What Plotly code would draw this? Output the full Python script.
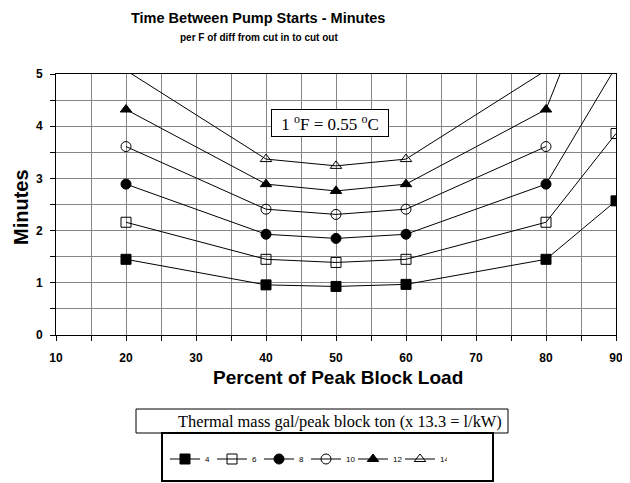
import plotly.graph_objects as go

# ---- data ----
load_pct = [20, 40, 50, 60, 80, 90]
s4 = [1.45, 0.96, 0.93, 0.97, 1.45, 2.57]
s6 = [2.16, 1.45, 1.39, 1.45, 2.16, 3.86]
s8 = [2.89, 1.93, 1.85, 1.93, 2.89, 5.14]
s10 = [3.61, 2.41, 2.31, 2.41, 3.61, None]
s12 = [4.32, 2.89, 2.76, 2.89, 4.32, 7.70]
s14 = [5.07, 3.37, 3.24, 3.37, 5.07, 9.00]
series_names = ["4", "6", "8", "10", "12", "14"]
x_ticks = [10, 20, 30, 40, 50, 60, 70, 80, 90]
y_ticks = [0, 1, 2, 3, 4, 5]

series = [s4, s6, s8, s10, s12, s14]
symbols = ["square", "square-open", "circle", "circle-open", "triangle-up", "triangle-up-open"]

W, H = 630, 483
OFF = 8  # page body margin
# plot area in screen pixels: x 56..616, y 74..335
SX0, SX1, SY0, SY1 = 56, 616, 74, 335
L, T = SX0 - OFF, SY0 - OFF
R, B = W - (SX1 - OFF), H - (SY1 - OFF)
PW, PH = SX1 - SX0, SY1 - SY0


def px(xs):
    return (xs - SX0) / PW


def py(ys):
    return (SY1 - ys) / PH


SANS = "Liberation Sans, Arial, sans-serif"
SERIF = "Liberation Serif, Times New Roman, serif"

fig = go.Figure()
for name, vals, sym in zip(series_names, series, symbols):
    fig.add_trace(go.Scatter(
        x=load_pct, y=vals, name=name, mode="lines+markers",
        line=dict(color="black", width=1),
        marker=dict(symbol=sym, size=10, color="black", line=dict(color="black", width=1)),
        connectgaps=False,
    ))

grid = "#858585"
fig.update_xaxes(
    range=[10, 90], tickvals=x_ticks, ticktext=[str(v) for v in x_ticks],
    showgrid=True, gridcolor=grid, gridwidth=1,
    minor=dict(dtick=5, tick0=10, showgrid=True, gridcolor=grid, gridwidth=1,
               ticks="outside", ticklen=5, tickcolor="black"),
    ticks="outside", ticklen=5, tickcolor="black",
    showline=True, linecolor="black", linewidth=1, mirror=True, zeroline=False,
    tickfont=dict(family=SANS, size=12, color="black", weight="bold"),
    ticklabelstandoff=7,
)
fig.update_yaxes(
    range=[0, 5], tickvals=y_ticks, ticktext=[str(v) for v in y_ticks],
    showgrid=True, gridcolor=grid, gridwidth=1,
    minor=dict(dtick=0.5, tick0=0, showgrid=True, gridcolor=grid, gridwidth=1,
               ticks="outside", ticklen=5, tickcolor="black"),
    ticks="outside", ticklen=5, tickcolor="black",
    showline=True, linecolor="black", linewidth=1, mirror=True, zeroline=False,
    tickfont=dict(family=SANS, size=12, color="black", weight="bold"),
    ticklabelstandoff=5,
)

annotations = [
    dict(text="<b>Time Between Pump Starts - Minutes</b>", xref="paper", yref="paper",
         x=px(258), y=py(18), showarrow=False, xanchor="center", yanchor="middle",
         font=dict(family=SANS, size=14.5, color="black")),
    dict(text="<b>per F of diff from cut in to cut out</b>", xref="paper", yref="paper",
         x=px(259), y=py(38), showarrow=False, xanchor="center", yanchor="middle",
         font=dict(family=SANS, size=10, color="black")),
    dict(text="<b>Minutes</b>", xref="paper", yref="paper", textangle=-90,
         x=px(21), y=py(207), showarrow=False, xanchor="center", yanchor="middle",
         font=dict(family=SANS, size=20, color="black")),
    dict(text="<b>Percent of Peak Block Load</b>", xref="paper", yref="paper",
         x=px(338), y=py(377), showarrow=False, xanchor="center", yanchor="middle",
         font=dict(family=SANS, size=19, color="black")),
    dict(text="1 <sup>o</sup>F = 0.55 <sup>o</sup>C", xref="paper", yref="paper",
         x=px(330), y=py(123), showarrow=False, xanchor="center", yanchor="middle",
         width=116, height=26, borderpad=0, bordercolor="black", borderwidth=1,
         bgcolor="white", font=dict(family=SERIF, size=17, color="black")),
    dict(text="Thermal mass gal/peak block ton (x 13.3 = l/kW)", xref="paper", yref="paper",
         x=px(340), y=py(421), showarrow=False, xanchor="center", yanchor="middle",
         font=dict(family=SERIF, size=16.4, color="black")),
]

shapes = [
    dict(type="rect", xref="paper", yref="paper", x0=px(136), x1=px(508), y0=py(409), y1=py(433),
         line=dict(color="black", width=1), fillcolor="white", layer="below"),
    dict(type="rect", xref="paper", yref="paper", x0=px(162), x1=px(493), y0=py(433), y1=py(481),
         line=dict(color="black", width=2), fillcolor="rgba(0,0,0,0)"),
]

fig.update_layout(
    width=W, height=H, margin=dict(l=L, r=R, t=T, b=B, autoexpand=False),
    paper_bgcolor="white", plot_bgcolor="white",
    showlegend=True,
    legend=dict(orientation="h", x=px(165), y=py(459), xanchor="left", yanchor="middle",
                entrywidth=2, entrywidthmode="pixels", itemclick=False,
                bgcolor="rgba(0,0,0,0)", borderwidth=0,
                font=dict(family=SANS, size=8, color="black"), tracegroupgap=0),
    annotations=annotations, shapes=shapes,
)

fig.write_html("out.html")
